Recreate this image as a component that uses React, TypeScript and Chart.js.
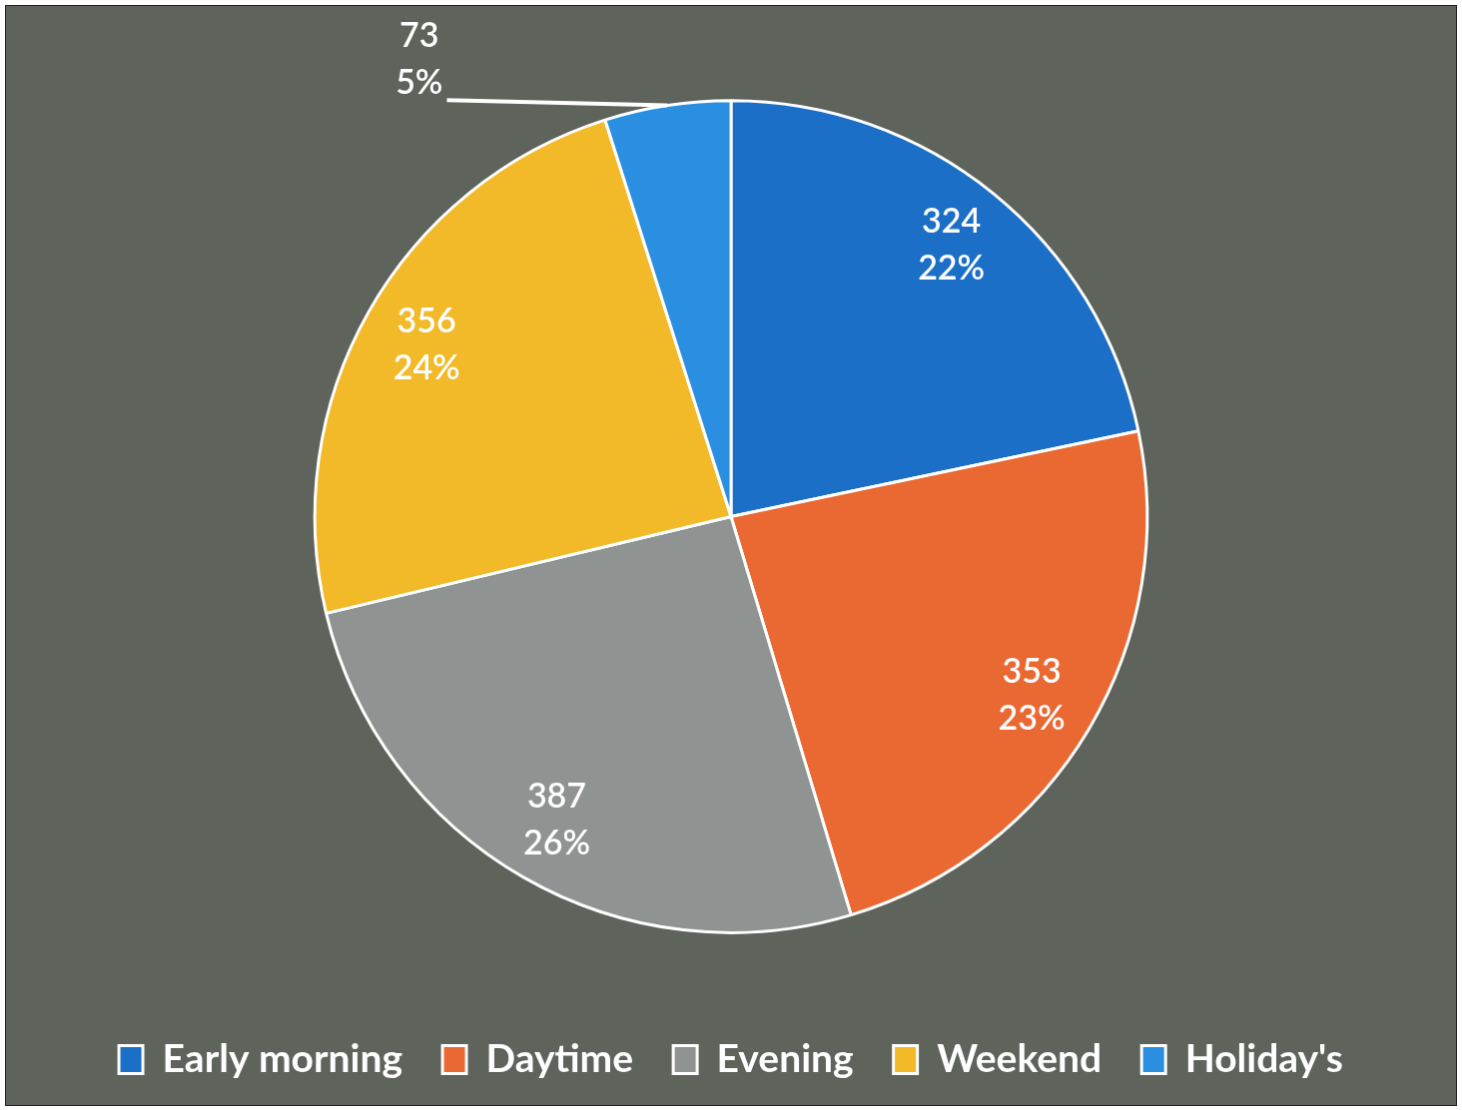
import React, { useEffect, useRef } from "react";
import { Chart, registerables } from "chart.js";

Chart.register(...registerables);

const categories = ["Early morning", "Daytime", "Evening", "Weekend", "Holiday's"];
const values = [324, 353, 387, 356, 73];
const percentLabels = ["22%", "23%", "26%", "24%", "5%"];
const sliceColors = ["#1b6fc7", "#ea6832", "#8f9391", "#f2b928", "#2a8fe1"];

const BG = "#5e635b";
const FONT = "Lato, 'Open Sans', sans-serif";

const bgPlugin = {
  id: "bgFill",
  beforeDraw(chart: any) {
    const { ctx, width, height } = chart;
    ctx.save();
    ctx.fillStyle = BG;
    ctx.fillRect(0, 0, width, height);
    ctx.restore();
  },
};

const labelPlugin = {
  id: "sliceLabels",
  afterDatasetsDraw(chart: any) {
    const { ctx } = chart;
    const meta = chart.getDatasetMeta(0);
    ctx.save();
    ctx.font = `600 34px ${FONT}`;
    ctx.fillStyle = "#ffffff";
    ctx.textAlign = "center";
    ctx.textBaseline = "middle";
    const lineGap = 23.5;
    meta.data.forEach((arc: any, i: number) => {
      const { x, y, startAngle, endAngle, outerRadius } = arc.getProps(
        ["x", "y", "startAngle", "endAngle", "outerRadius"],
        true
      );
      const mid = (startAngle + endAngle) / 2;
      const v = String(values[i]);
      const p = percentLabels[i];
      if (i === values.length - 1) {
        const lx = x - 0.749 * outerRadius;
        const ly = y - 1.098 * outerRadius;
        ctx.fillText(v, lx, ly - lineGap);
        ctx.fillText(p, lx, ly + lineGap);
        const pw = ctx.measureText(p).width;
        const sx = lx + pw / 2 + 4;
        const sy = ly + lineGap + 17;
        const ex = x + Math.cos(mid) * outerRadius;
        const ey = y + Math.sin(mid) * outerRadius;
        ctx.strokeStyle = "#ffffff";
        ctx.lineWidth = 4;
        ctx.beginPath();
        ctx.moveTo(sx, sy);
        ctx.lineTo(ex, ey);
        ctx.stroke();
      } else {
        const r = outerRadius * 0.84;
        const cx = x + Math.cos(mid) * r;
        const cy = y + Math.sin(mid) * r;
        ctx.fillText(v, cx, cy - lineGap);
        ctx.fillText(p, cx, cy + lineGap);
      }
    });
    ctx.restore();
  },
};

export default function App() {
  const canvasRef = useRef<HTMLCanvasElement | null>(null);

  useEffect(() => {
    if (!canvasRef.current) return;
    const chart = new Chart(canvasRef.current, {
      type: "pie",
      data: {
        labels: categories,
        datasets: [
          {
            data: values,
            backgroundColor: sliceColors,
            borderColor: "#ffffff",
            borderWidth: 3,
            radius: "86.3%",
          },
        ],
      },
      options: {
        responsive: false,
        maintainAspectRatio: false,
        animation: false,
        layout: { padding: { top: 27, bottom: 16, left: 0, right: 0 } },
        plugins: {
          tooltip: { enabled: false },
          legend: {
            display: true,
            position: "bottom",
            labels: {
              color: "#ffffff",
              font: { family: FONT, size: 39, weight: "bold" },
              boxWidth: 24,
              boxHeight: 28,
              padding: 40,
            },
          },
        },
      },
      plugins: [bgPlugin, labelPlugin],
    });
    return () => chart.destroy();
  }, []);

  return (
    <div style={{ position: "absolute", left: 5, top: 5, width: 1452, height: 1101 }}>
      <canvas
        ref={canvasRef}
        width={1452}
        height={1101}
        style={{ display: "block", width: 1452, height: 1101, border: "1px solid #222", boxSizing: "border-box" }}
      />
    </div>
  );
}
